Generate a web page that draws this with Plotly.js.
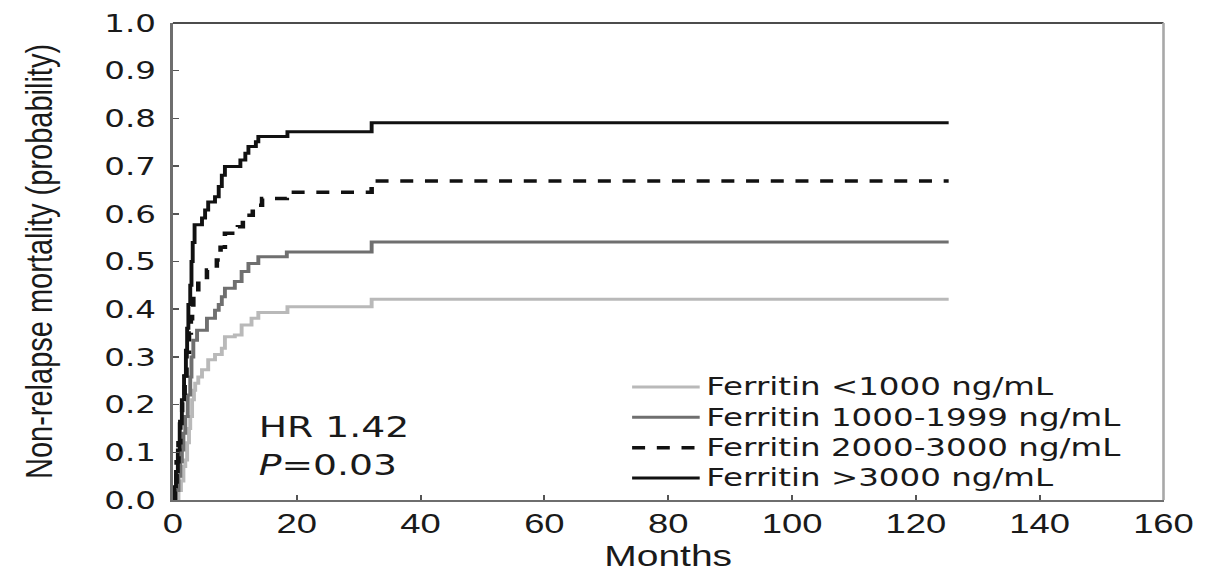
<!DOCTYPE html>
<html>
<head>
<meta charset="utf-8">
<script src="https://cdn.plot.ly/plotly-3.0.1.min.js"></script>
<style>
  html, body { margin: 0; padding: 0; background: #ffffff; overflow: hidden; }
  /* the figure is laid out narrow and widened as a whole */
  #chart { width: 930px; height: 572px; transform: scaleX(1.3); transform-origin: 0 0; }
  .legendtext { font-size: 25px !important; }
</style>
</head>
<body>
<div id="chart"></div>
<script>
// Cumulative incidence of non-relapse mortality by pre-transplant ferritin
const seriesNames = [
  'Ferritin &lt;1000 ng/mL',
  'Ferritin 1000-1999 ng/mL',
  'Ferritin 2000-3000 ng/mL',
  'Ferritin &gt;3000 ng/mL'
];

const monthsLt1000 = [0, 0.9, 1.3, 1.7, 2.0, 2.3, 2.6, 2.8, 3.1, 3.4, 3.6, 4.1, 4.7, 5.7, 6.8, 7.9, 8.4, 10.0, 11.1, 12.7, 13.8, 18.5, 32.1, 125.3];
const nrmLt1000    = [0, 0.02, 0.04, 0.07, 0.084, 0.12, 0.15, 0.175, 0.21, 0.23, 0.245, 0.258, 0.273, 0.294, 0.305, 0.318, 0.342, 0.346, 0.367, 0.381, 0.393, 0.405, 0.421, 0.421];

const months1000 = [0, 0.5, 0.9, 1.2, 1.45, 1.7, 2.0, 2.4, 2.8, 3.0, 3.3, 3.9, 5.5, 6.8, 7.4, 7.9, 8.4, 10.0, 11.1, 12.2, 13.8, 18.4, 32.1, 125.3];
const nrm1000    = [0, 0.02, 0.05, 0.08, 0.105, 0.14, 0.175, 0.22, 0.258, 0.3, 0.335, 0.356, 0.381, 0.398, 0.41, 0.426, 0.444, 0.458, 0.479, 0.496, 0.51, 0.52, 0.541, 0.541];

const months2000 = [0, 0.3, 0.6, 0.9, 1.2, 1.5, 1.9, 2.2, 2.6, 2.9, 3.1, 3.3, 4.1, 5.5, 7.1, 7.7, 8.4, 10.5, 11.3, 12.9, 14.4, 18.4, 32.1, 125.3];
const nrm2000    = [0, 0.03, 0.08, 0.12, 0.17, 0.21, 0.26, 0.31, 0.35, 0.38, 0.398, 0.433, 0.458, 0.482, 0.503, 0.53, 0.559, 0.573, 0.597, 0.618, 0.632, 0.645, 0.669, 0.669];

const months3000 = [0, 0.26, 0.5, 0.8, 1.1, 1.45, 1.8, 2.1, 2.3, 2.5, 2.8, 3.0, 3.2, 3.5, 4.7, 5.2, 5.7, 6.8, 7.4, 7.9, 8.4, 10.9, 11.7, 12.2, 13.4, 13.8, 18.5, 32.1, 125.3];
const nrm3000    = [0, 0.028, 0.06, 0.105, 0.16, 0.21, 0.26, 0.314, 0.36, 0.41, 0.45, 0.5, 0.54, 0.577, 0.591, 0.608, 0.625, 0.636, 0.657, 0.681, 0.699, 0.713, 0.727, 0.741, 0.751, 0.762, 0.772, 0.791, 0.791];

const xTicks = [0, 20, 40, 60, 80, 100, 120, 140, 160];
const yTicks = [0, 0.1, 0.2, 0.3, 0.4, 0.5, 0.6, 0.7, 0.8, 0.9, 1.0];

function stepTrace(x, y, name, color, width, dash) {
  return {
    type: 'scatter', mode: 'lines', x: x, y: y, name: name,
    line: { shape: 'hv', color: color, width: width, dash: dash || 'solid' },
    hoverinfo: 'skip'
  };
}

const traces = [
  stepTrace(monthsLt1000, nrmLt1000, seriesNames[0], '#b9b9b9', 3),
  stepTrace(months1000, nrm1000, seriesNames[1], '#6f6f6f', 3),
  stepTrace(months2000, nrm2000, seriesNames[2], '#111111', 3.5, '10px,9px'),
  stepTrace(months3000, nrm3000, seriesNames[3], '#111111', 3)
];

const layout = {
  width: 930, height: 572,
  margin: { l: 133, r: 35, t: 23, b: 72 },
  paper_bgcolor: '#ffffff', plot_bgcolor: '#ffffff',
  showlegend: true,
  legend: {
    x: 0.457, y: 0.279, xanchor: 'left', yanchor: 'top',
    bgcolor: 'rgba(0,0,0,0)', borderwidth: 0,
    font: { family: 'DejaVu Sans', size: 21, color: '#1a1a1a' },
    itemwidth: 52, tracegroupgap: 0
  },
  xaxis: {
    range: [0, 160], tickvals: xTicks, ticktext: xTicks.map(String),
    ticks: 'inside', ticklen: 5, tickwidth: 1.5, tickcolor: '#555',
    showline: true, linecolor: '#6e6e6e', linewidth: 2,
    showgrid: false, zeroline: false, ticklabelstandoff: -3,
    tickfont: { family: 'Liberation Sans', size: 28, color: '#1a1a1a' },
    title: {
      text: 'Months',
      font: { family: 'Liberation Sans', size: 30, color: '#1a1a1a' },
      standoff: 2
    }
  },
  yaxis: {
    range: [0, 1], tickvals: yTicks, tickformat: '.1f',
    ticks: 'inside', ticklen: 5, tickwidth: 1.5, tickcolor: '#555',
    showline: true, linecolor: '#6e6e6e', linewidth: 2,
    showgrid: false, zeroline: false, ticklabelstandoff: 6,
    tickfont: { family: 'DejaVu Sans', size: 25, color: '#1a1a1a' },
    title: { text: 'Non-relapse mortality (probability)', font: { family: 'Liberation Sans', size: 29, color: '#1a1a1a' }, standoff: 31 }
  },
  shapes: [
    { type: 'line', xref: 'paper', yref: 'paper', x0: 0, x1: 1, y0: 1, y1: 1, line: { color: '#111', width: 1.3 } },
    { type: 'line', xref: 'paper', yref: 'paper', x0: 1, x1: 1, y0: 0, y1: 1, line: { color: '#a8a8a8', width: 2 } }
  ],
  annotations: [
    {
      xref: 'x', yref: 'y', x: 13.4, y: 0.113, xanchor: 'left', yanchor: 'middle', align: 'left',
      showarrow: false, text: 'HR 1.42<br><i>P</i>=0.03',
      font: { family: 'DejaVu Sans', size: 29, color: '#1a1a1a' }
    }
  ]
};

Plotly.newPlot('chart', traces, layout, { displayModeBar: false, staticPlot: true });
</script>
</body>
</html>
